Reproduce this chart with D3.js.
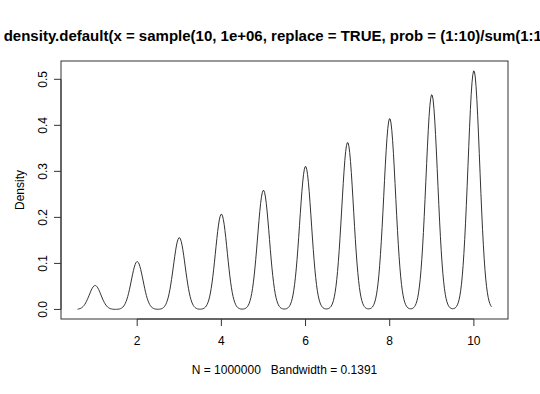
<!DOCTYPE html>
<html><head><meta charset="utf-8">
<script src="https://cdn.jsdelivr.net/npm/d3@7"></script>
<style>body{margin:0;background:#fff}svg{display:block}text{font-family:"Liberation Sans",Arial,sans-serif;white-space:pre}</style>
</head><body>
<script>
const categories = [1,2,3,4,5,6,7,8,9,10];
const peakHeights = [0.052,0.104,0.156,0.207,0.259,0.311,0.363,0.415,0.467,0.519];
const bandwidth = 0.1391;
const xTicks = [2,4,6,8,10];
const yTicks = [0,0.1,0.2,0.3,0.4,0.5];
const titleText = "density.default(x = sample(10, 1e+06, replace = TRUE, prob = (1:10)/sum(1:10)))";
const subText = "N = 1000000   Bandwidth = 0.1391";

const W=540,H=394, L=61, R=508, T=61, B=319;
const svg=d3.select("body").append("svg").attr("width",W).attr("height",H);
const xmin=categories[0]-3*bandwidth, xmax=categories[categories.length-1]+3*bandwidth;
const ymax=d3.max(peakHeights);
const xr=xmax-xmin;
const x=d3.scaleLinear().domain([xmin-0.04*xr,xmax+0.04*xr]).range([L,R]);
const y=d3.scaleLinear().domain([-0.04*ymax,ymax*1.04]).range([B,T]);

// curve from kernel components
const n=512, pts=[];
for(let i=0;i<n;i++){
  const xv=xmin+(xmax-xmin)*i/(n-1);
  let d=0;
  categories.forEach((c,k)=>{d+=peakHeights[k]*Math.exp(-((xv-c)**2)/(2*bandwidth*bandwidth));});
  pts.push([xv,d]);
}
svg.append("path").datum(pts).attr("fill","none").attr("stroke","#333").attr("stroke-width",1)
  .attr("d",d3.line().x(d=>x(d[0])).y(d=>y(d[1])));

svg.append("rect").attr("x",L).attr("y",T).attr("width",R-L).attr("height",B-T)
  .attr("fill","none").attr("stroke","#333").attr("stroke-width",1);

// x axis
const gx=svg.append("g");
gx.append("line").attr("x1",x(xTicks[0])).attr("x2",x(xTicks[xTicks.length-1])).attr("y1",B).attr("y2",B).attr("stroke","#333");
xTicks.forEach(t=>{
  gx.append("line").attr("x1",x(t)).attr("x2",x(t)).attr("y1",B).attr("y2",B+7).attr("stroke","#333");
  gx.append("text").attr("x",x(t)).attr("y",345).attr("text-anchor","middle").attr("font-size",12).text(t);
});
// y axis
const gy=svg.append("g");
gy.append("line").attr("x1",L).attr("x2",L).attr("y1",y(yTicks[0])).attr("y2",y(yTicks[yTicks.length-1])).attr("stroke","#333");
yTicks.forEach(t=>{
  gy.append("line").attr("x1",L).attr("x2",L-7).attr("y1",y(t)).attr("y2",y(t)).attr("stroke","#333");
  gy.append("text").attr("transform",`translate(47,${y(t)}) rotate(-90)`).attr("text-anchor","middle").attr("font-size",12).text(t.toFixed(1));
});
svg.append("text").attr("transform",`translate(24,${(T+B)/2}) rotate(-90)`).attr("text-anchor","middle").attr("font-size",12).text("Density");
svg.append("text").attr("x",(L+R)/2).attr("y",41).attr("text-anchor","middle").attr("font-size",15).attr("font-weight","bold").text(titleText);
svg.append("text").attr("x",(L+R)/2).attr("y",374).attr("text-anchor","middle").attr("font-size",12).text(subText);
</script>
</body></html>
